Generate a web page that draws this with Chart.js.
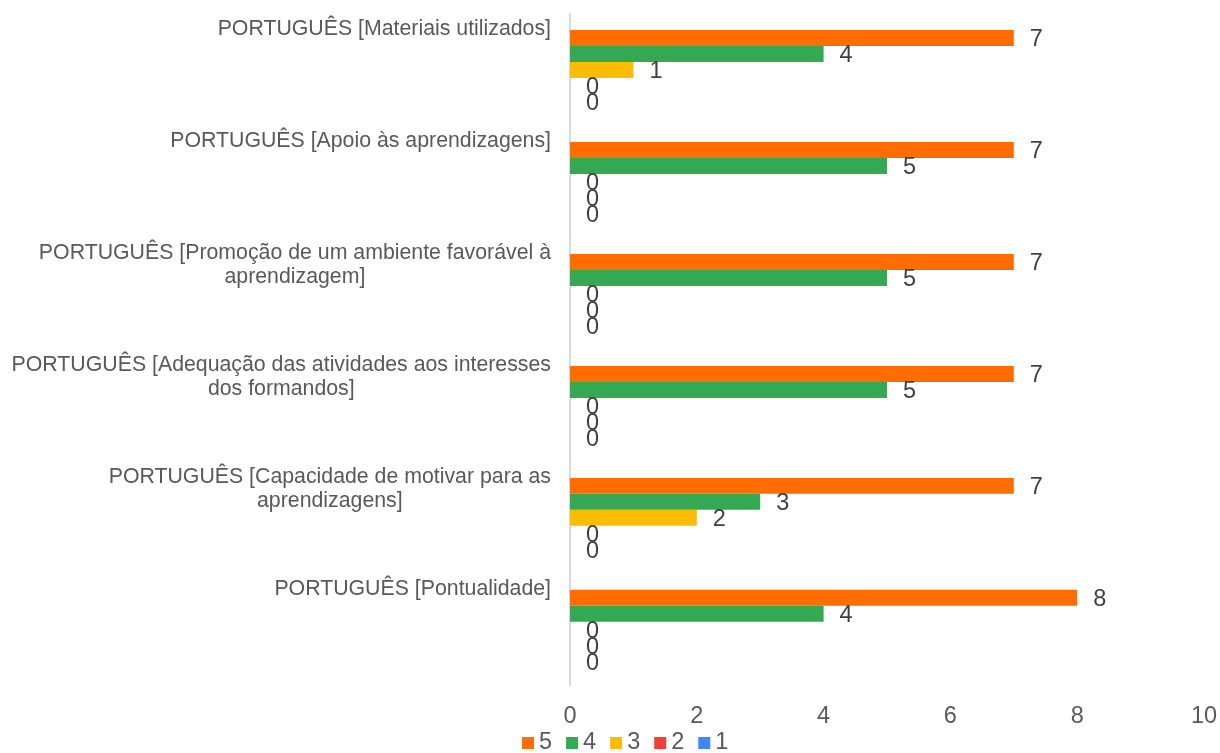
<!DOCTYPE html>
<html>
<head>
<meta charset="utf-8">
<script src="https://cdn.jsdelivr.net/npm/chart.js@4.4.1/dist/chart.umd.min.js"></script>
<style>
  html, body { margin: 0; padding: 0; background: #ffffff; }
  #wrap { width: 1220px; height: 753px; position: relative; }
</style>
</head>
<body>
<div id="wrap"><canvas id="c" width="1220" height="753"></canvas></div>
<script>
const categories = [
  ["PORTUGUÊS [Materiais utilizados]"],
  ["PORTUGUÊS [Apoio às aprendizagens]"],
  ["PORTUGUÊS [Promoção de um ambiente favorável à", "aprendizagem]"],
  ["PORTUGUÊS [Adequação das atividades aos interesses", "dos formandos]"],
  ["PORTUGUÊS [Capacidade de motivar para as", "aprendizagens]"],
  ["PORTUGUÊS [Pontualidade]"]
];
const seriesNames = ["5", "4", "3", "2", "1"];
const values5 = [7, 7, 7, 7, 7, 8];
const values4 = [4, 5, 5, 5, 3, 4];
const values3 = [1, 0, 0, 0, 2, 0];
const values2 = [0, 0, 0, 0, 0, 0];
const values1 = [0, 0, 0, 0, 0, 0];
const xTicks = [0, 2, 4, 6, 8, 10];
const colors = ["#ff6d01", "#34a853", "#fbbc04", "#ea4335", "#4285f4"];

const FONT = "'Liberation Sans', Arial, sans-serif";

const allValues = [values5, values4, values3, values2, values1];
const datasets = allValues.map((vals, k) => ({
  label: seriesNames[k],
  data: vals,
  backgroundColor: colors[k],
  borderWidth: 0,
  barPercentage: 1.0,
  categoryPercentage: 0.714
}));

const customDraw = {
  id: 'customDraw',
  afterDatasetsDraw(chart) {
    const ctx = chart.ctx;
    const xs = chart.scales.x;
    const ys = chart.scales.y;
    // data labels
    ctx.save();
    ctx.font = "23.5px " + FONT;
    ctx.fillStyle = "#404040";
    ctx.textAlign = "left";
    ctx.textBaseline = "middle";
    chart.data.datasets.forEach((ds, d) => {
      const meta = chart.getDatasetMeta(d);
      meta.data.forEach((bar, i) => {
        const v = ds.data[i];
        ctx.fillText(String(v), xs.getPixelForValue(v) + 16, bar.y + 1.5);
      });
    });
    ctx.restore();

    // category labels (top-aligned in each band, centered lines, right-aligned block)
    ctx.save();
    ctx.font = "21.3px " + FONT;
    ctx.fillStyle = "#595959";
    ctx.textBaseline = "middle";
    ctx.textAlign = "center";
    const bandH = (ys.bottom - ys.top) / categories.length;
    const rightEdge = 551;
    categories.forEach((lines, i) => {
      const bandTop = ys.getPixelForValue(i) - bandH / 2;
      const maxW = Math.max(...lines.map(l => ctx.measureText(l).width));
      const cx = rightEdge - maxW / 2;
      lines.forEach((l, j) => {
        ctx.fillText(l, cx, bandTop + 15 + j * 24);
      });
    });
    ctx.restore();

    // legend
    ctx.save();
    ctx.font = "23.5px " + FONT;
    ctx.textBaseline = "middle";
    ctx.textAlign = "left";
    const box = 12, gapText = 5, gapItem = 14;
    const widths = seriesNames.map(n => box + gapText + ctx.measureText(n).width);
    const total = widths.reduce((a, b) => a + b, 0) + gapItem * (widths.length - 1);
    let x = 522;
    const yc = 743;
    seriesNames.forEach((n, k) => {
      ctx.fillStyle = colors[k];
      ctx.fillRect(x, yc - box / 2, box, box);
      ctx.fillStyle = "#595959";
      ctx.fillText(n, x + box + gapText, yc);
      x += widths[k] + gapItem;
    });
    ctx.restore();
  }
};

new Chart(document.getElementById('c'), {
  type: 'bar',
  data: { labels: categories, datasets },
  options: {
    indexAxis: 'y',
    responsive: false,
    animation: false,
    layout: { padding: { top: 14, right: 16, bottom: 5, left: 0 } },
    plugins: {
      legend: { display: false },
      tooltip: { enabled: false }
    },
    scales: {
      x: {
        min: 0,
        max: 10,
        afterBuildTicks(scale) { scale.ticks = xTicks.map(v => ({ value: v })); },
        afterFit(scale) { scale.paddingRight = 0; scale.paddingLeft = 0; },
        grid: { display: false, drawTicks: false },
        border: { display: false },
        ticks: {
          padding: 17,
          color: "#595959",
          font: { family: FONT, size: 23.5 }
        }
      },
      y: {
        grid: { display: false, drawTicks: false },
        border: { display: true, color: "#d9d9d9", width: 2 },
        ticks: { display: false },
        afterFit(scale) { scale.width = 570; }
      }
    }
  },
  plugins: [customDraw]
});
</script>
</body>
</html>
